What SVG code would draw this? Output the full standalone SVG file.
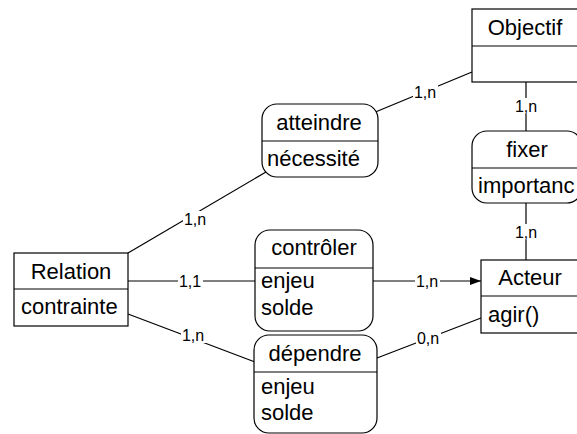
<svg xmlns="http://www.w3.org/2000/svg" width="577" height="434" viewBox="0 0 577 434">
<style>
.box{fill:#fff;stroke:#000;stroke-width:1.2}
.ln{stroke:#000;stroke-width:1.2;fill:none}
.t{font-family:"Liberation Sans",Arial,sans-serif;font-size:22px;fill:#000}
.c{text-anchor:middle}
.lb{font-family:"Liberation Sans",Arial,sans-serif;font-size:16px;fill:#000;text-anchor:middle}
.bg{fill:#fff}
</style>
<defs>
<marker id="arr" markerWidth="12" markerHeight="10" refX="11" refY="5" orient="auto" markerUnits="userSpaceOnUse">
<path d="M0,1 L11,5 L0,9 Z" fill="#000"/>
</marker>
</defs>
<rect width="577" height="434" fill="#fff"/>
<g id="connectors">
<line class="ln" x1="373" y1="113" x2="472" y2="72"/>
<line class="ln" x1="526" y1="82" x2="526" y2="131"/>
<line class="ln" x1="526" y1="203" x2="526" y2="260"/>
<line class="ln" x1="128" y1="253" x2="266" y2="172"/>
<line class="ln" x1="128" y1="281" x2="255" y2="281"/>
<line class="ln" x1="128" y1="314" x2="255" y2="362"/>
<line class="ln" x1="373" y1="281" x2="481" y2="281" marker-end="url(#arr)"/>
<line class="ln" x1="377" y1="358" x2="481" y2="318"/>
<rect class="bg" x="413" y="84" width="25" height="16"/>
<text class="lb" x="425" y="98">1,n</text>
<rect class="bg" x="514" y="98" width="25" height="16"/>
<text class="lb" x="526" y="112">1,n</text>
<rect class="bg" x="514" y="224" width="25" height="16"/>
<text class="lb" x="526" y="238">1,n</text>
<rect class="bg" x="183" y="211" width="25" height="16"/>
<text class="lb" x="195" y="225">1,n</text>
<rect class="bg" x="178" y="273" width="25" height="16"/>
<text class="lb" x="190" y="287">1,1</text>
<rect class="bg" x="181" y="327" width="25" height="16"/>
<text class="lb" x="193" y="341">1,n</text>
<rect class="bg" x="415" y="273" width="25" height="16"/>
<text class="lb" x="427" y="287">1,n</text>
<rect class="bg" x="416" y="330" width="25" height="16"/>
<text class="lb" x="428" y="344">0,n</text>
</g>
<g id="objectif">
<rect class="box" x="472" y="9" width="107" height="73"/>
<line class="ln" x1="472" y1="46" x2="579" y2="46"/>
<text class="t c" x="525" y="35">Objectif</text>
</g>
<g id="atteindre">
<rect class="box" x="262" y="104" width="116" height="73" rx="15" ry="15"/>
<line class="ln" x1="262" y1="141" x2="378" y2="141"/>
<text class="t c" x="319" y="130">atteindre</text>
<text class="t" x="267" y="166">nécessité</text>
</g>
<g id="fixer">
<rect class="box" x="472" y="131" width="110" height="72" rx="15" ry="15"/>
<line class="ln" x1="472" y1="168" x2="582" y2="168"/>
<text class="t c" x="527" y="157">fixer</text>
<text class="t" x="478" y="193">importanc</text>
</g>
<g id="relation">
<rect class="box" x="14" y="253" width="114" height="73"/>
<line class="ln" x1="14" y1="289" x2="128" y2="289"/>
<text class="t c" x="71" y="279">Relation</text>
<text class="t" x="21" y="314">contrainte</text>
</g>
<g id="controler">
<rect class="box" x="255" y="230" width="118" height="101" rx="15" ry="15"/>
<line class="ln" x1="255" y1="268" x2="373" y2="268"/>
<text class="t c" x="314" y="255">contrôler</text>
<text class="t" x="261" y="288">enjeu</text>
<text class="t" x="261" y="315">solde</text>
</g>
<g id="dependre">
<rect class="box" x="254" y="335" width="123" height="98" rx="15" ry="15"/>
<line class="ln" x1="254" y1="372" x2="377" y2="372"/>
<text class="t c" x="315" y="361">dépendre</text>
<text class="t" x="261" y="394">enjeu</text>
<text class="t" x="261" y="420">solde</text>
</g>
<g id="acteur">
<rect class="box" x="481" y="260" width="98" height="73"/>
<line class="ln" x1="481" y1="296" x2="579" y2="296"/>
<text class="t c" x="530" y="285">Acteur</text>
<text class="t" x="488" y="322">agir()</text>
</g>
</svg>
